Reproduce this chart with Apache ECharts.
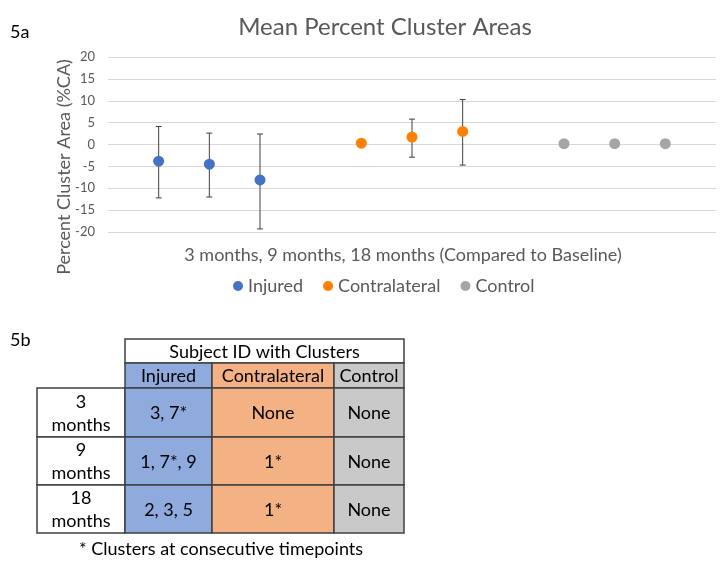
<!DOCTYPE html>
<html><head><meta charset="utf-8">
<script src="https://cdn.jsdelivr.net/npm/echarts@6/dist/echarts.min.js"></script>
<style>html,body{margin:0;padding:0;background:#fff}#c{width:725px;height:572px}</style>
</head><body><div id="c"></div>
<script>
// ---- Data (5a) ----
const seriesNames = ['Injured', 'Contralateral', 'Control'];
const injuredX = [1, 2, 3];
const injuredMean = [-3.8, -4.5, -8.1];
const injuredLow = [-12.2, -12.0, -19.3];
const injuredHigh = [4.1, 2.6, 2.4];
const contraX = [5, 6, 7];
const contraMean = [0.3, 1.7, 3.0];
const contraLow = [0.3, -2.9, -4.7];
const contraHigh = [0.3, 5.8, 10.3];
const controlX = [9, 10, 11];
const controlMean = [0.2, 0.2, 0.2];
const yTicks = [-20, -15, -10, -5, 0, 5, 10, 15, 20];
// ---- Data (5b table) ----
const tableTitle = 'Subject ID with Clusters';
const tableCols = ['Injured', 'Contralateral', 'Control'];
const tableRows = ['3\nmonths', '9\nmonths', '18\nmonths'];
const tableCells = [
  ['3, 7*', 'None', 'None'],
  ['1, 7*, 9', '1*', 'None'],
  ['2, 3, 5', '1*', 'None']
];
const footnote = '* Clusters at consecutive timepoints';

const FONT = 'Lato';
const GREY = '#595959';
const colors = ['#4472c4', '#ff7f00', '#a5a5a5'];
const fills = ['#8faadc', '#f4b183', '#c9c9c9'];

function pts(xs, ys) { return xs.map((x, i) => [x, ys[i]]); }
function bars(xs, lo, hi) { return xs.map((x, i) => [x, lo[i], hi[i]]); }

function errRender(params, api) {
  const x = api.value(0);
  const lo = api.coord([x, api.value(1)]);
  const hi = api.coord([x, api.value(2)]);
  if (Math.abs(lo[1] - hi[1]) < 1) return null;
  const w = 3;
  const st = { stroke: '#404040', lineWidth: 1 };
  return { type: 'group', children: [
    { type: 'line', shape: { x1: lo[0], y1: lo[1], x2: hi[0], y2: hi[1] }, style: st },
    { type: 'line', shape: { x1: lo[0] - w, y1: lo[1], x2: lo[0] + w, y2: lo[1] }, style: st },
    { type: 'line', shape: { x1: hi[0] - w, y1: hi[1], x2: hi[0] + w, y2: hi[1] }, style: st }
  ]};
}

// ---- table graphics ----
const g = [];
const colX = [125, 212, 334, 404];
const rowLabelX = [37, 125];
const yTitle = [339, 363];
const yHead = [363, 388];
const rowY = [388, 437, 485, 533];
const border = { stroke: '#404040', lineWidth: 1.5 };
const tstyle = (txt, x, y, size, color) => ({ type: 'text', x: x, y: y,
  style: { text: txt, font: (size || 18) + 'px ' + FONT, fill: color || '#000', align: 'center', verticalAlign: 'middle', lineHeight: 23 } });
g.push({ type: 'rect', shape: { x: colX[0], y: yTitle[0], width: colX[3] - colX[0], height: yTitle[1] - yTitle[0] }, style: Object.assign({ fill: '#fff' }, border) });
g.push(tstyle(tableTitle, (colX[0] + colX[3]) / 2, (yTitle[0] + yTitle[1]) / 2 + 1));
tableCols.forEach((c, j) => {
  g.push({ type: 'rect', shape: { x: colX[j], y: yHead[0], width: colX[j + 1] - colX[j], height: yHead[1] - yHead[0] }, style: Object.assign({ fill: fills[j] }, border) });
  g.push(tstyle(c, (colX[j] + colX[j + 1]) / 2, (yHead[0] + yHead[1]) / 2 + 1));
});
tableRows.forEach((r, i) => {
  g.push({ type: 'rect', shape: { x: rowLabelX[0], y: rowY[i], width: rowLabelX[1] - rowLabelX[0], height: rowY[i + 1] - rowY[i] }, style: Object.assign({ fill: '#fff' }, border) });
  g.push(tstyle(r, (rowLabelX[0] + rowLabelX[1]) / 2, (rowY[i] + rowY[i + 1]) / 2 + 1));
  tableCells[i].forEach((v, j) => {
    g.push({ type: 'rect', shape: { x: colX[j], y: rowY[i], width: colX[j + 1] - colX[j], height: rowY[i + 1] - rowY[i] }, style: Object.assign({ fill: fills[j] }, border) });
    g.push(tstyle(v, (colX[j] + colX[j + 1]) / 2, (rowY[i] + rowY[i + 1]) / 2 + 1));
  });
});
g.push(tstyle(footnote, 221, 549));
g.push({ type: 'text', x: 10, y: 32, style: { text: '5a', font: '18px ' + FONT, fill: '#000', verticalAlign: 'middle' } });
g.push({ type: 'text', x: 10, y: 340, style: { text: '5b', font: '18px ' + FONT, fill: '#000', verticalAlign: 'middle' } });
g.push(tstyle('3 months, 9 months, 18 months (Compared to Baseline)', 403, 255, 18, GREY));
g.push({ type: 'text', x: 64, y: 167, rotation: Math.PI / 2, style: { text: 'Percent Cluster Area (%CA)', font: '18px ' + FONT, fill: GREY, align: 'center', verticalAlign: 'middle' } });

const chart = echarts.init(document.getElementById('c'), null, { renderer: 'canvas' });
chart.setOption({
  animation: false,
  textStyle: { fontFamily: FONT },
  title: { text: 'Mean Percent Cluster Areas', left: 380, top: 10, textAlign: 'center',
    textStyle: { fontFamily: FONT, fontSize: 24, fontWeight: 'normal', color: GREY } },
  legend: { data: seriesNames, left: 228, top: 272, icon: 'circle', itemWidth: 10, itemHeight: 10, itemGap: 20,
    textStyle: { fontFamily: FONT, fontSize: 18, color: GREY } },
  grid: { left: 108, right: 9, top: 57, bottom: 340 },
  xAxis: { type: 'value', min: 0, max: 12, show: false },
  yAxis: { type: 'value', min: yTicks[0], max: yTicks[yTicks.length - 1], interval: 5,
    axisLine: { show: false }, axisTick: { show: false },
    axisLabel: { color: GREY, fontSize: 13, margin: 13, fontFamily: FONT },
    splitLine: { lineStyle: { color: '#d9d9d9', width: 1 } } },
  series: [
    { type: 'custom', renderItem: errRender, data: bars(injuredX, injuredLow, injuredHigh), z: 1, silent: true },
    { type: 'custom', renderItem: errRender, data: bars(contraX, contraLow, contraHigh), z: 1, silent: true },
    { name: seriesNames[0], type: 'scatter', data: pts(injuredX, injuredMean), symbolSize: 11, itemStyle: { color: colors[0], opacity: 1 }, z: 3 },
    { name: seriesNames[1], type: 'scatter', data: pts(contraX, contraMean), symbolSize: 11, itemStyle: { color: colors[1], opacity: 1 }, z: 3 },
    { name: seriesNames[2], type: 'scatter', data: pts(controlX, controlMean), symbolSize: 11, itemStyle: { color: colors[2], opacity: 1 }, z: 3 }
  ],
  graphic: g
});
</script></body></html>
